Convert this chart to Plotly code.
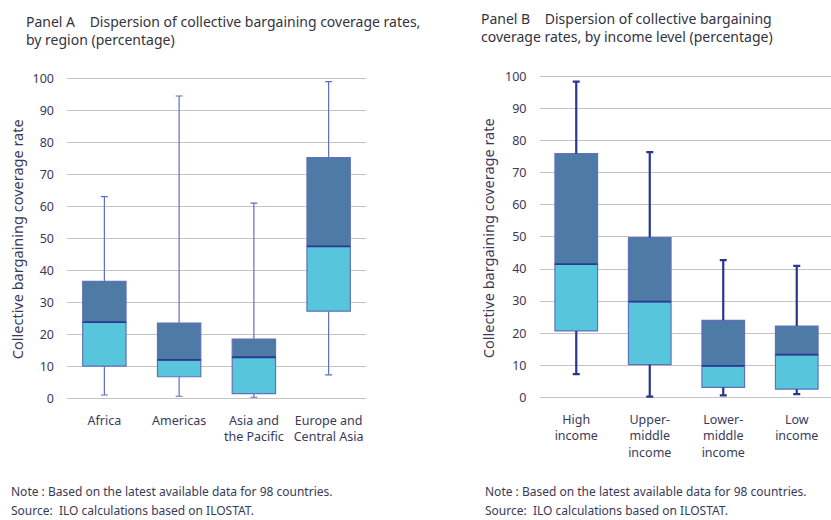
import plotly.graph_objects as go

# ---- Data ----
regions = ["Africa", "Americas", "Asia and<br>the Pacific", "Europe and<br>Central Asia"]
reg_min = [1.0, 0.6, 0.3, 7.3]
reg_q1 = [10.0, 6.7, 1.4, 27.2]
reg_med = [23.8, 12.0, 12.8, 47.5]
reg_q3 = [36.5, 23.5, 18.5, 75.2]
reg_max = [63.0, 94.5, 61.0, 99.0]

incomes = ["High<br>income", "Upper-<br>middle<br>income", "Lower-<br>middle<br>income", "Low<br>income"]
inc_min = [7.2, 0.2, 0.6, 1.0]
inc_q1 = [20.7, 10.2, 3.1, 2.5]
inc_med = [41.5, 29.8, 9.8, 13.3]
inc_q3 = [76.0, 49.8, 24.0, 22.2]
inc_max = [98.5, 76.5, 42.8, 41.0]

yticks = [0, 10, 20, 30, 40, 50, 60, 70, 80, 90, 100]

DARK = "#4E7AA6"
LIGHT = "#57C5DB"
EDGE = "#6171BD"
MED = "#2B3A8F"
TXT = "#3a3a58"
FONT = "Noto Sans"

fig = go.Figure()

def add_panel(cats, mn, q1, med, q3, mx, xa, ya, wcol, wthick):
    xs = list(range(len(cats)))
    # whisker lines (Q3 -> max, Q1 -> min)
    wx, wy = [], []
    for i in xs:
        wx += [i, i, None, i, i, None]
        wy += [q3[i], mx[i], None, q1[i], mn[i], None]
    fig.add_trace(go.Scatter(x=wx, y=wy, mode="lines", line=dict(color=wcol, width=wthick),
                             xaxis=xa, yaxis=ya, showlegend=False, hoverinfo="skip"))
    # whisker caps
    fig.add_trace(go.Scatter(x=xs + xs, y=mx + mn, mode="markers",
                             marker=dict(symbol="line-ew", size=5, line=dict(color=wcol, width=wthick)),
                             xaxis=xa, yaxis=ya, showlegend=False, hoverinfo="skip"))
    lower = [m - a for m, a in zip(med, q1)]
    upper = [b - m for b, m in zip(q3, med)]
    fig.add_trace(go.Bar(x=xs, y=lower, base=q1, width=0.58, marker=dict(color=LIGHT, line=dict(color=EDGE, width=1.2)),
                         xaxis=xa, yaxis=ya, showlegend=False, hoverinfo="skip"))
    fig.add_trace(go.Bar(x=xs, y=upper, base=med, width=0.58, marker=dict(color=DARK, line=dict(color=EDGE, width=1.2)),
                         xaxis=xa, yaxis=ya, showlegend=False, hoverinfo="skip"))
    # median line
    fig.add_trace(go.Scatter(x=xs, y=med, mode="markers", marker=dict(color="rgba(0,0,0,0)", size=1),
                             error_x=dict(type="data", array=[0.29] * len(xs), color=MED, thickness=1.8, width=0),
                             xaxis=xa, yaxis=ya, showlegend=False, hoverinfo="skip"))

add_panel(regions, reg_min, reg_q1, reg_med, reg_q3, reg_max, "x", "y", "#5F6FBF", 1.2)
add_panel(incomes, inc_min, inc_q1, inc_med, inc_q3, inc_max, "x2", "y2", "#28368F", 2.2)

W, H = 831, 520
axis_common = dict(showgrid=False, zeroline=False, showline=False, ticks="",
                   tickfont=dict(family=FONT, size=12.5, color=TXT), fixedrange=True)
yaxis_common = dict(showgrid=True, gridcolor="#C4C4C4", gridwidth=1, zeroline=False, showline=False,
                    tickvals=yticks, range=[-2, 102], ticks="", ticklabelstandoff=12,
                    tickfont=dict(family=FONT, size=12.5, color=TXT))

fig.update_layout(
    width=W, height=H, margin=dict(l=0, r=0, t=0, b=0),
    paper_bgcolor="white", plot_bgcolor="white", barmode="overlay",
    xaxis=dict(domain=[67 / W, 366 / W], range=[-0.5, 3.5], tickvals=[0, 1, 2, 3], ticktext=regions,
               anchor="y", ticklabelstandoff=7, **axis_common),
    yaxis=dict(domain=[(H - 405.7) / H, (H - 70.55) / H], anchor="x", **yaxis_common),
    xaxis2=dict(domain=[539.5 / W, 1.0], range=[-0.5, 3.466], tickvals=[0, 1, 2, 3], ticktext=incomes,
                anchor="y2", ticklabelstandoff=7, **axis_common),
    yaxis2=dict(domain=[(H - 404.76) / H, (H - 68.84) / H], anchor="x2", **yaxis_common),
)

ann = []
def txt(x, y, s, size, xanchor="left", yanchor="middle", angle=0, color=TXT):
    ann.append(dict(x=x / W, y=1 - y / H, xref="paper", yref="paper", text=s, showarrow=False,
                    xanchor=xanchor, yanchor=yanchor, align="left", textangle=angle,
                    font=dict(family=FONT, size=size, color=color)))

sp = "&nbsp;" * 4
TC = "#333340"
txt(24, 28.5, "Panel A" + sp + "Dispersion of collective bargaining coverage rates,<br>by region (percentage)", 14, color=TC)
txt(479, 25.5, "Panel B" + sp + "Dispersion of collective bargaining<br>coverage rates, by income level (percentage)", 14, color=TC)
txt(17, 239, "Collective bargaining coverage rate", 14.5, xanchor="center", angle=-90)
txt(488, 238, "Collective bargaining coverage rate", 14.5, xanchor="center", angle=-90)
txt(9, 493, "Note : Based on the latest available data for 98 countries.", 12)
txt(9, 512, "Source:&nbsp; ILO calculations based on ILOSTAT.", 12)
txt(483, 493, "Note : Based on the latest available data for 98 countries.", 12)
txt(483, 512, "Source:&nbsp; ILO calculations based on ILOSTAT.", 12)
fig.update_layout(annotations=ann)

fig.write_html("out.html", config={"displayModeBar": False},
               post_script="document.body.style.margin='0';document.body.style.overflow='hidden';")
